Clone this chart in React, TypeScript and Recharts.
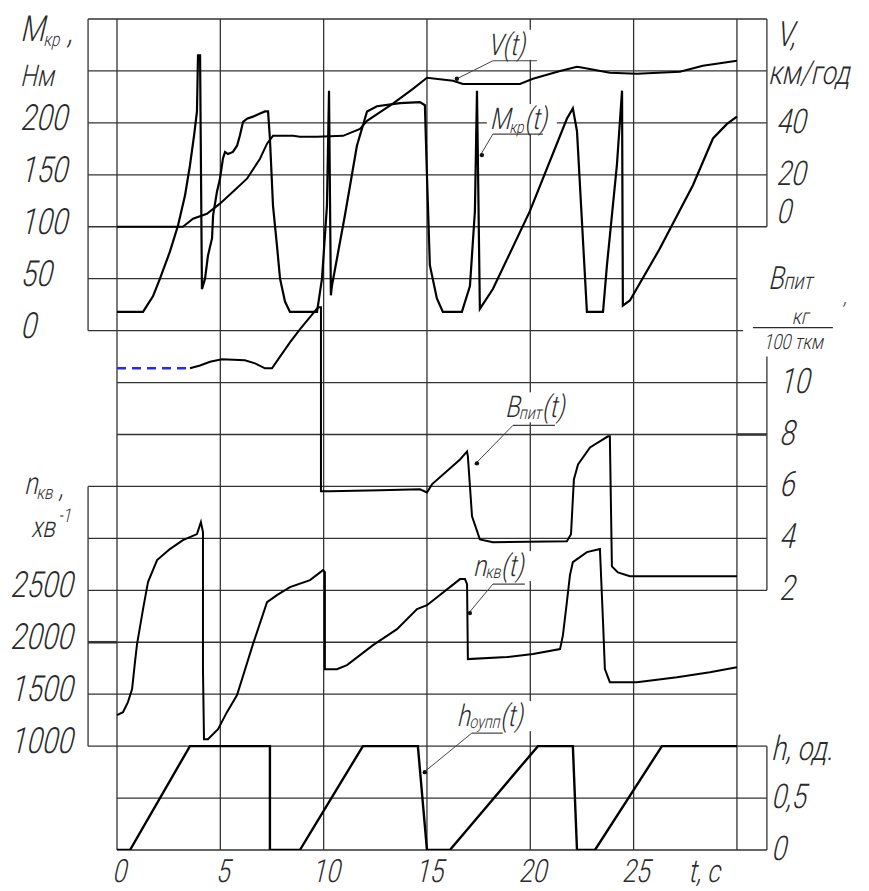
import React from 'react';
import { ComposedChart, Line, XAxis, YAxis, ReferenceLine, ReferenceDot } from 'recharts';

// Крутний момент M_кр(t), Нм
const mT = [0, 1.26, 1.45, 1.74, 2.08, 2.56, 2.95, 3.29, 3.53, 3.73, 3.87, 3.92, 4.02, 4.11, 4.26, 4.4, 4.6, 4.65, 4.84, 4.98, 5.13, 5.23, 5.37, 5.61, 5.81, 5.95, 6.1, 6.29, 6.58, 6.92, 7.16, 7.31, 7.4, 7.55, 7.74, 7.89, 8.13, 8.37, 9.68, 9.92, 10.16, 10.26, 10.35, 10.4, 11.03, 11.61, 12.1, 12.58, 13.69, 14.66, 14.9, 15.0, 15.14, 15.48, 15.77, 16.69, 17.08, 17.32, 17.42, 17.56, 18.19, 19.98, 21.77, 22.06, 22.26, 22.74, 23.52, 23.71, 24.19, 24.44, 24.48, 24.82, 26.27, 27.87, 28.84, 29.52, 30];
const mVal = [18, 18, 24, 33, 50, 76, 101, 130, 159, 188, 211, 265, 265, 40, 50, 72, 89, 111, 134, 146, 166, 172, 170, 172, 178, 188, 201, 204, 206, 209, 211, 211, 185, 120, 82, 50, 28, 18, 18, 50, 120, 231, 34, 43, 111, 178, 211, 216, 219, 220, 217, 149, 63, 31, 18, 18, 43, 115, 231, 21, 40, 115, 204, 214, 192, 18, 18, 63, 159, 231, 24, 29, 79, 140, 185, 199, 206];

// Швидкість V(t), км/год
const vT = [0, 3.19, 3.68, 4.35, 4.98, 5.61, 6.29, 6.92, 7.26, 7.55, 8.52, 8.85, 9.68, 10.94, 11.76, 12.1, 13.35, 14.32, 15.0, 16.26, 16.74, 19.5, 20.13, 21.44, 22.26, 22.55, 23.85, 25.16, 27.24, 28.35, 30];
const vVal = [0, 0, 3.1, 5, 8.9, 13.5, 18.5, 26.2, 32, 35, 35, 34.7, 34.7, 35, 37.7, 40.8, 47.4, 53.1, 57.4, 56.2, 55, 55, 57, 60, 61.6, 61.2, 59.3, 58.9, 59.7, 62, 63.9];

// Витрата палива B_пит(t), кг/100 ткм
const bDashT = [0, 3.53];
const bDashVal = [10.55, 10.55];
const bT = [3.53, 4.02, 4.5, 5.08, 6.19, 6.68, 7.16, 7.5, 7.89, 8.37, 8.85, 9.73, 9.87, 9.87, 10.31, 12.73, 14.66, 15.0, 15.24, 16.6, 16.94, 16.98, 17.08, 17.18, 17.56, 18.19, 21.77, 21.97, 22.11, 22.31, 22.89, 23.76, 23.85, 23.95, 24.24, 24.82, 30];
const bVal = [10.55, 10.66, 10.8, 10.9, 10.86, 10.74, 10.55, 10.55, 11.0, 11.55, 12.05, 12.9, 12.9, 5.81, 5.81, 5.85, 5.89, 5.77, 6.08, 7.04, 7.35, 7.16, 6.0, 4.85, 3.96, 3.85, 3.89, 4.16, 6.27, 6.85, 7.5, 7.93, 7.93, 2.92, 2.69, 2.54, 2.54];

// Частота обертання n_кв(t), хв^-1
const nT = [0, 0.29, 0.53, 0.73, 0.87, 0.97, 1.26, 1.5, 1.94, 2.56, 3.19, 3.87, 4.06, 4.16, 4.16, 4.21, 4.4, 4.89, 5.32, 5.81, 6.58, 7.26, 7.74, 8.37, 9.34, 9.97, 10.06, 10.06, 10.64, 11.13, 12.39, 13.55, 14.52, 15.0, 16.6, 16.84, 16.94, 16.98, 18.87, 20.13, 21.44, 21.58, 21.77, 21.92, 22.06, 22.74, 23.37, 23.52, 23.61, 23.85, 25.16, 27.1, 28.69, 30];
const nVal = [1298, 1327, 1424, 1549, 1809, 1982, 2319, 2579, 2791, 2897, 2983, 3041, 3156, 3060, 1741, 1067, 1067, 1164, 1327, 1491, 1982, 2386, 2454, 2531, 2598, 2694, 2675, 1741, 1741, 1780, 1972, 2126, 2319, 2357, 2608, 2608, 2560, 1838, 1857, 1886, 1934, 2069, 2386, 2646, 2771, 2868, 2897, 2194, 1741, 1616, 1616, 1664, 1712, 1760];

// Положення педалі зчеплення h(t), од.
const hT = [0, 0.63, 3.53, 7.4, 7.4, 8.85, 11.9, 14.56, 15.0, 16.11, 20.37, 22.06, 22.26, 23.13, 26.37, 30];
const hVal = [0, 0, 1, 1, 0, 0, 1, 1, 0, 0, 1, 1, 0, 0, 1, 1];

// підписи осей
const tTicks = [0, 5, 10, 15, 20, 25];
const mTicks = [0, 50, 100, 150, 200];
const vTicks = [0, 20, 40];
const bTicks = [2, 4, 6, 8, 10];
const nTicks = [1000, 1500, 2000, 2500];
const hTicks = [0, 0.5];

const zip = (ts: number[], vs: number[]) => ts.map((t, i) => ({ t, v: vs[i] }));

const FONT = 'Roboto, "Open Sans", "DejaVu Sans", sans-serif';
const INK = '#2b2b2b';
const GRID = '#333';
const SX = 0.78;

// рамка (t, с) і рядки сітки (0 - верх, 16 - низ)
const TL = -1.4;
const TR = 31.45;
const TE = 30;

const hGrid: [number, number, number, number?][] = [
  [0, TL, TR], [1, TL, TR], [2, TL, TR], [3, TL, TR], [4, TL, TR],
  [5, TL, TE], [6, TL, TE + 0.3],
  [7, 0, TR], [8, 0, TE], [8, TE, TR, 2.6],
  [9, TL, TR], [10, TL, TR], [11, TL, TR],
  [12, TL, TE], [12, TL, 0, 2.6], [13, TL, TE],
  [14, TL, TR], [15, 0, TR], [16, 0, TR],
];
const vGrid: [number, number, number][] = [
  [TL, 0, 6], [TL, 9, 14],
  [0, 0, 16], [5, 0, 16], [10, 0, 16], [15, 0, 16], [20, 0, 16], [25, 0, 16], [TE, 0, 16],
  [TR, 0, 4], [TR, 6.5, 11], [TR, 14, 16],
];

function Txt({ x, y, size = 36, anchor = 'start', children }: any) {
  return (
    <text
      transform={`translate(${x} ${y}) skewX(-13) scale(${SX} 1)`}
      fontFamily={FONT}
      fontWeight={300}
      fontSize={size}
      fill={INK}
      textAnchor={anchor}
    >
      {children}
    </text>
  );
}

function TimeTick({ x, y, payload }: any) {
  return <Txt x={x + 2} y={y + 32} size={32} anchor="middle">{payload.value}</Txt>;
}

function Callout({ cx, cy, lx, ly, ulen, tx, ty, w, children }: any) {
  return (
    <g>
      <rect x={cx + tx - 3} y={cy + ty - 25} width={w + 6} height={30} fill="#fff" />
      <line x1={cx} y1={cy} x2={cx + lx} y2={cy + ly} stroke="#444" strokeWidth={1} />
      <line x1={cx + lx} y1={cy + ly} x2={cx + lx + ulen} y2={cy + ly} stroke="#444" strokeWidth={1.2} />
      <circle cx={cx + 2} cy={cy - 1} r={2.2} fill="#111" />
      <Txt x={cx + tx} y={cy + ty} size={30}>{children}</Txt>
    </g>
  );
}

const lineProps = {
  xAxisId: 't',
  dataKey: 'v',
  type: 'linear' as const,
  dot: false,
  activeDot: false,
  isAnimationActive: false,
};

export default function App() {
  return (
    <div style={{ position: 'absolute', left: 0, top: 0, background: '#fff' }}>
      <ComposedChart width={869} height={891} margin={{ top: 19, right: 99, bottom: 0, left: 86 }}>
        <XAxis
          xAxisId="t"
          dataKey="t"
          type="number"
          domain={[-1.5, 31.6]}
          allowDataOverflow
          ticks={tTicks}
          interval={0}
          axisLine={false}
          tickLine={false}
          tickSize={0}
          tickMargin={0}
          height={41}
          tick={<TimeTick />}
        />
        <YAxis yAxisId="G" type="number" domain={[0, 16]} reversed allowDataOverflow hide />
        <YAxis yAxisId="M" type="number" domain={[-500, 300]} allowDataOverflow hide />
        <YAxis yAxisId="V" type="number" domain={[-240, 80]} allowDataOverflow hide />
        <YAxis yAxisId="B" type="number" domain={[-8, 24]} allowDataOverflow hide />
        <YAxis yAxisId="N" type="number" domain={[0, 8000]} allowDataOverflow hide />
        <YAxis yAxisId="H" type="number" domain={[0, 8]} allowDataOverflow hide />

        {hGrid.map(([r, a, b, w], i) => (
          <ReferenceLine
            key={'hg' + i}
            xAxisId="t"
            yAxisId="G"
            segment={[{ x: a, y: r }, { x: b, y: r }]}
            stroke={GRID}
            strokeWidth={w ?? 1.3}
            ifOverflow="visible"
          />
        ))}
        {vGrid.map(([t, r1, r2], i) => (
          <ReferenceLine
            key={'vg' + i}
            xAxisId="t"
            yAxisId="G"
            segment={[{ x: t, y: r1 }, { x: t, y: r2 }]}
            stroke={GRID}
            strokeWidth={1.3}
            ifOverflow="visible"
          />
        ))}

        <Line {...lineProps} yAxisId="V" data={zip(vT, vVal)} stroke="#000" strokeWidth={2} />
        <Line {...lineProps} yAxisId="M" data={zip(mT, mVal)} stroke="#000" strokeWidth={2.2} />
        <Line {...lineProps} yAxisId="B" data={zip(bDashT, bDashVal)} stroke="#1f2bff" strokeWidth={2.4} strokeDasharray="9 6" />
        <Line {...lineProps} yAxisId="B" data={zip(bT, bVal)} stroke="#000" strokeWidth={2} />
        <Line {...lineProps} yAxisId="N" data={zip(nT, nVal)} stroke="#000" strokeWidth={2} />
        <Line {...lineProps} yAxisId="H" data={zip(hT, hVal)} stroke="#000" strokeWidth={2.4} />

        {/* шкали */}
        {mTicks.map((v) => (
          <ReferenceDot key={'mt' + v} xAxisId="t" yAxisId="M" x={TL} y={v} r={0} ifOverflow="visible"
            shape={(p: any) => <Txt x={p.cx - 68} y={p.cy + 7} size={36}>{v}</Txt>} />
        ))}
        {nTicks.map((v) => (
          <ReferenceDot key={'nt' + v} xAxisId="t" yAxisId="N" x={TL} y={v} r={0} ifOverflow="visible"
            shape={(p: any) => <Txt x={p.cx - 78} y={p.cy + 7} size={36}>{v}</Txt>} />
        ))}
        {vTicks.map((v) => (
          <ReferenceDot key={'vt' + v} xAxisId="t" yAxisId="V" x={TR} y={v} r={0} ifOverflow="visible"
            shape={(p: any) => <Txt x={p.cx + 9} y={p.cy + (v === 0 ? -4 : 10)} size={34}>{v}</Txt>} />
        ))}
        {bTicks.map((v) => (
          <ReferenceDot key={'bt' + v} xAxisId="t" yAxisId="B" x={TR} y={v} r={0} ifOverflow="visible"
            shape={(p: any) => <Txt x={p.cx + 12} y={p.cy + 10} size={35}>{v}</Txt>} />
        ))}
        {hTicks.map((v) => (
          <ReferenceDot key={'ht' + v} xAxisId="t" yAxisId="H" x={TR} y={v} r={0} ifOverflow="visible"
            shape={(p: any) => <Txt x={p.cx + 4} y={p.cy + 10} size={34}>{String(v).replace('.', ',')}</Txt>} />
        ))}

        {/* назви осей */}
        <ReferenceDot xAxisId="t" yAxisId="M" x={TL} y={300} r={0} ifOverflow="visible"
          shape={(p: any) => (
            <g>
              <Txt x={p.cx - 68} y={p.cy + 22} size={36}>M<tspan fontSize={19} dy={5}>кр</tspan><tspan dy={-3}> ,</tspan></Txt>
              <Txt x={p.cx - 68} y={p.cy + 67} size={30}>Нм</Txt>
            </g>
          )} />
        <ReferenceDot xAxisId="t" yAxisId="N" x={TL} y={3500} r={0} ifOverflow="visible"
          shape={(p: any) => (
            <g>
              <Txt x={p.cx - 64} y={p.cy + 8} size={31}>n<tspan fontSize={19} dy={5}>кв</tspan><tspan dy={-2}> ,</tspan></Txt>
              <Txt x={p.cx - 57} y={p.cy + 51} size={29}>хв<tspan fontSize={19} dy={-15}>-1</tspan></Txt>
            </g>
          )} />
        <ReferenceDot xAxisId="t" yAxisId="V" x={TR} y={80} r={0} ifOverflow="visible"
          shape={(p: any) => (
            <g>
              <Txt x={p.cx + 9} y={p.cy + 27} size={35}>V,</Txt>
              <Txt x={p.cx + 1} y={p.cy + 65} size={33}>км/год</Txt>
            </g>
          )} />
        <ReferenceDot xAxisId="t" yAxisId="B" x={TR} y={12} r={0} ifOverflow="visible"
          shape={(p: any) => (
            <g>
              <Txt x={p.cx + 1} y={p.cy - 42} size={32}>B<tspan fontSize={23}>пит</tspan></Txt>
              <Txt x={p.cx + 76} y={p.cy - 27} size={22}>,</Txt>
              <Txt x={p.cx + 33} y={p.cy - 7} size={22} anchor="middle">кг</Txt>
              <line x1={p.cx - 14} y1={p.cy - 3} x2={p.cx + 66} y2={p.cy - 3} stroke={INK} strokeWidth={1.3} />
              <Txt x={p.cx + 26} y={p.cy + 18} size={21} anchor="middle">100 ткм</Txt>
            </g>
          )} />
        <ReferenceDot xAxisId="t" yAxisId="H" x={TR} y={1} r={0} ifOverflow="visible"
          shape={(p: any) => <Txt x={p.cx + 4} y={p.cy + 14} size={34}>h, од.</Txt>} />
        <ReferenceDot xAxisId="t" yAxisId="G" x={TE} y={16} r={0} ifOverflow="visible"
          shape={(p: any) => <Txt x={p.cx - 49} y={p.cy + 32} size={32}>t, с</Txt>} />

        {/* виноски до кривих */}
        <ReferenceDot xAxisId="t" yAxisId="V" x={16.35} y={56.6} r={0} ifOverflow="visible"
          shape={(p: any) => <Callout cx={p.cx} cy={p.cy} lx={38} ly={-19} ulen={44} tx={33} ty={-25} w={42}>V(t)</Callout>} />
        <ReferenceDot xAxisId="t" yAxisId="M" x={17.56} y={168} r={0} ifOverflow="visible"
          shape={(p: any) => (
            <Callout cx={p.cx} cy={p.cy} lx={13} ly={-22} ulen={50} tx={10} ty={-27} w={64}>
              M<tspan fontSize={17} dy={4}>кр</tspan><tspan dy={-4}>(t)</tspan>
            </Callout>
          )} />
        <ReferenceDot xAxisId="t" yAxisId="B" x={17.32} y={6.85} r={0} ifOverflow="visible"
          shape={(p: any) => (
            <Callout cx={p.cx} cy={p.cy} lx={38} ly={-39} ulen={42} tx={30} ty={-47} w={67}>
              B<tspan fontSize={18} dy={2}>пит</tspan><tspan dy={-2}>(t)</tspan>
            </Callout>
          )} />
        <ReferenceDot xAxisId="t" yAxisId="N" x={16.98} y={2271} r={0} ifOverflow="visible"
          shape={(p: any) => (
            <Callout cx={p.cx} cy={p.cy} lx={25} ly={-30} ulen={32} tx={5} ty={-38} w={57}>
              n<tspan fontSize={18} dy={2}>кв</tspan><tspan dy={-2}>(t)</tspan>
            </Callout>
          )} />
        <ReferenceDot xAxisId="t" yAxisId="H" x={14.8} y={0.74} r={0} ifOverflow="visible"
          shape={(p: any) => (
            <Callout cx={p.cx} cy={p.cy} lx={49} ly={-40} ulen={31} tx={34} ty={-47} w={73}>
              h<tspan fontSize={18} dy={2}>оупп</tspan><tspan dy={-2}>(t)</tspan>
            </Callout>
          )} />
      </ComposedChart>
    </div>
  );
}
